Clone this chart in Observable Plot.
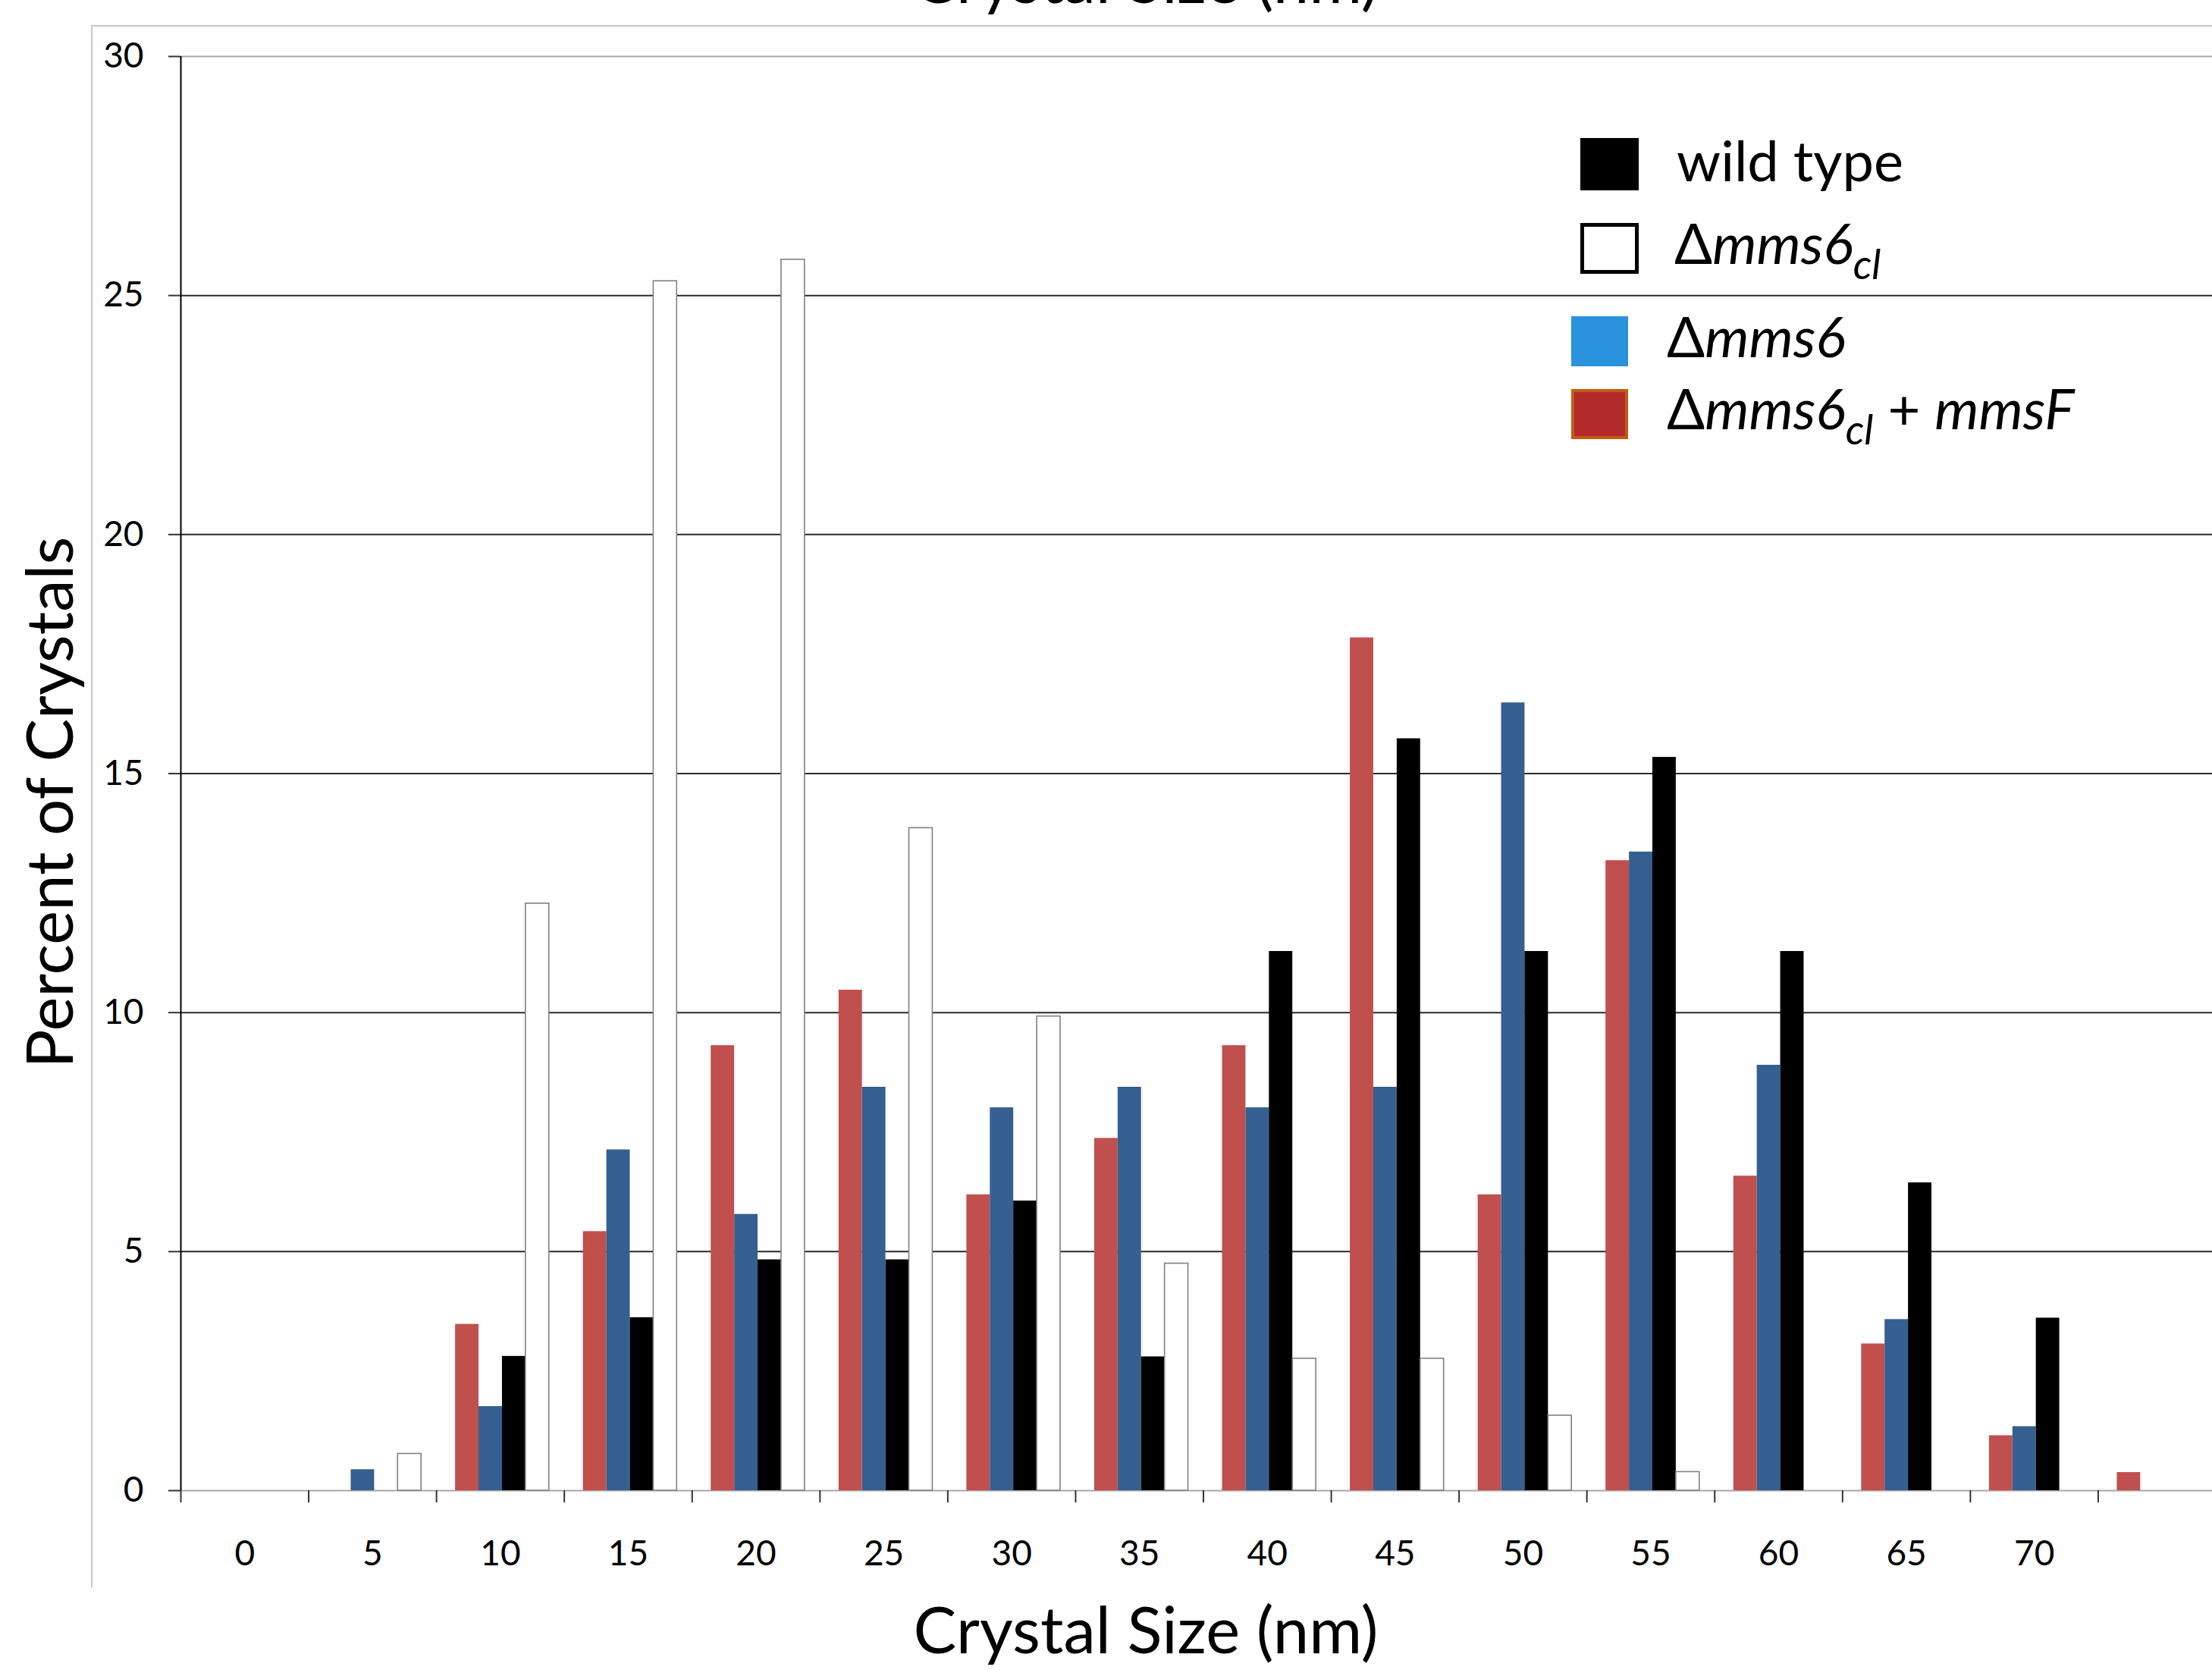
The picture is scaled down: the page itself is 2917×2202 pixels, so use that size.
<!DOCTYPE html>
<html>
<head>
<meta charset="utf-8">
<script src="https://cdn.jsdelivr.net/npm/d3@7"></script>
<script src="https://cdn.jsdelivr.net/npm/@observablehq/plot@0.6"></script>
<style>
  html, body { margin: 0; padding: 0; background: #fff; }
  #wrap { position: relative; width: 2917px; height: 2202px; overflow: hidden; background: #fff; font-family: Lato, "Open Sans", sans-serif; }
  #frame { position: absolute; left: 120px; top: 33px; width: 3000px; height: 2060px; border-left: 2px solid #c8c8c8; border-top: 2px solid #c8c8c8; box-sizing: border-box; }
  #chart { position: absolute; left: 0; top: 0; }
  #overlay { position: absolute; left: 0; top: 0; }
</style>
</head>
<body>
<div id="wrap">
  <div id="frame"></div>
  <div id="chart"></div>
  <svg id="overlay" width="2917" height="2202" font-family="Lato, 'Open Sans', sans-serif">
    <!-- cut-off duplicate title at the top, as in the reference -->
    <text x="1511" y="4" text-anchor="middle" font-size="85">Crystal Size (nm)</text>
    <!-- axis titles -->
    <text x="1511" y="2180" text-anchor="middle" font-size="85">Crystal Size (nm)</text>
    <text transform="translate(96,1058) rotate(-90)" text-anchor="middle" font-size="85">Percent of Crystals</text>
    <!-- legend -->
    <rect x="2084" y="182" width="77" height="69" fill="#000"/>
    <text x="2211" y="239" font-size="74">wild type</text>
    <rect x="2086.5" y="296.5" width="72" height="62" fill="#fff" stroke="#000" stroke-width="5"/>
    <text x="2208" y="348" font-size="74"><tspan>Δ</tspan><tspan font-style="italic">mms6</tspan><tspan font-style="italic" font-size="54" dy="20">cl</tspan></text>
    <rect x="2072" y="417" width="75" height="66" fill="#2A92DC"/>
    <text x="2198" y="471" font-size="74"><tspan>Δ</tspan><tspan font-style="italic">mms6</tspan></text>
    <rect x="2074" y="515" width="71" height="62" fill="#B22B2B" stroke="#C55A11" stroke-width="4"/>
    <text x="2198" y="566" font-size="74"><tspan>Δ</tspan><tspan font-style="italic">mms6</tspan><tspan font-style="italic" font-size="54" dy="20">cl</tspan><tspan dy="-20"> + </tspan><tspan font-style="italic">mmsF</tspan></text>
  </svg>
</div>
<script>
// ---- data ----
const sizes = [0, 5, 10, 15, 20, 25, 30, 35, 40, 45, 50, 55, 60, 65, 70, 75];
const sizeLabels = ["0", "5", "10", "15", "20", "25", "30", "35", "40", "45", "50", "55", "60", "65", "70", ""];
const wildType   = [0, 0, 2.81, 3.62, 4.83, 4.83, 6.06, 2.80, 11.28, 15.73, 11.28, 15.34, 11.28, 6.44, 3.61, 0];
const mms6cl     = [0, 0.77, 12.28, 25.3, 25.75, 13.86, 9.92, 4.75, 2.76, 2.76, 1.57, 0.39, 0, 0, 0, 0];
const mms6       = [0, 0.44, 1.76, 7.13, 5.78, 8.44, 8.01, 8.44, 8.01, 8.44, 16.48, 13.36, 8.90, 3.58, 1.34, 0];
const mms6clMmsF = [0, 0, 3.48, 5.42, 9.31, 10.47, 6.19, 7.37, 9.31, 17.84, 6.19, 13.18, 6.58, 3.07, 1.15, 0.38];
const yTicks = [0, 5, 10, 15, 20, 25, 30];

// series in the order they appear inside each group
const series = [
  {name: "Δmms6cl + mmsF", values: mms6clMmsF, fill: "#C0504D", stroke: "none"},
  {name: "Δmms6",          values: mms6,       fill: "#365F91", stroke: "none"},
  {name: "wild type",      values: wildType,   fill: "#000000", stroke: "none"},
  {name: "Δmms6cl",        values: mms6cl,     fill: "#ffffff", stroke: "#808080"}
];

// ---- layout ----
const W = 2917, H = 2202;
const xStart = 238, xEnd = 2935;           // x band scale range (runs past the right edge, as in the reference)
const bw = (xEnd - xStart) / sizes.length; // band width
const groupOffset = 25, barW = 30.9;

const barMarks = series.map((s, i) => {
  const rows = sizes.map((size, j) => ({size, value: s.values[j], series: s.name}))
                    .filter(d => d.value > 0);
  const left = groupOffset + i * barW;
  return Plot.barY(rows, {
    x: "size", y: "value",
    fill: s.fill, stroke: s.stroke, strokeWidth: s.stroke === "none" ? 0 : 1.6,
    insetLeft: left, insetRight: bw - left - barW
  });
});

const chart = Plot.plot({
  width: W, height: H,
  marginLeft: xStart, marginRight: 0, marginTop: 74, marginBottom: H - 1965,
  style: {fontFamily: "Lato, 'Open Sans', sans-serif", color: "#000", background: "transparent"},
  x: {type: "band", domain: sizes, range: [xStart, xEnd], padding: 0, round: false, label: null},
  y: {domain: [0, 30], label: null},
  marks: [
    // gridlines
    Plot.ruleY(yTicks.filter(t => t > 0 && t < 30), {stroke: "#2a2a2a", strokeWidth: 2}),
    Plot.ruleY(yTicks.filter(t => t === 0 || t === 30), {stroke: "#a8a8a8", strokeWidth: 2}),
    // bars
    ...barMarks,
    // y axis
    Plot.axisY(yTicks, {tickSize: 16, tickPadding: 33, fontSize: 46, stroke: "#333", strokeWidth: 2, tickFormat: d => String(d), label: null}),
    Plot.ruleX([sizes[0]], {x: d => d, y1: 0, y2: 30, dx: -bw / 2, stroke: "#000", strokeWidth: 2}),
    // x axis: tick marks on the category boundaries, labels at the band centres
    Plot.ruleX(sizes, {x: d => d, y1: 0, y2: -16 / 63, dx: -bw / 2, stroke: "#333", strokeWidth: 2}),
    Plot.axisX({tickSize: 0, tickPadding: 66, fontSize: 46, tickFormat: (d) => sizeLabels[sizes.indexOf(d)], label: null})
  ]
});
document.getElementById("chart").appendChild(chart);
</script>
</body>
</html>
